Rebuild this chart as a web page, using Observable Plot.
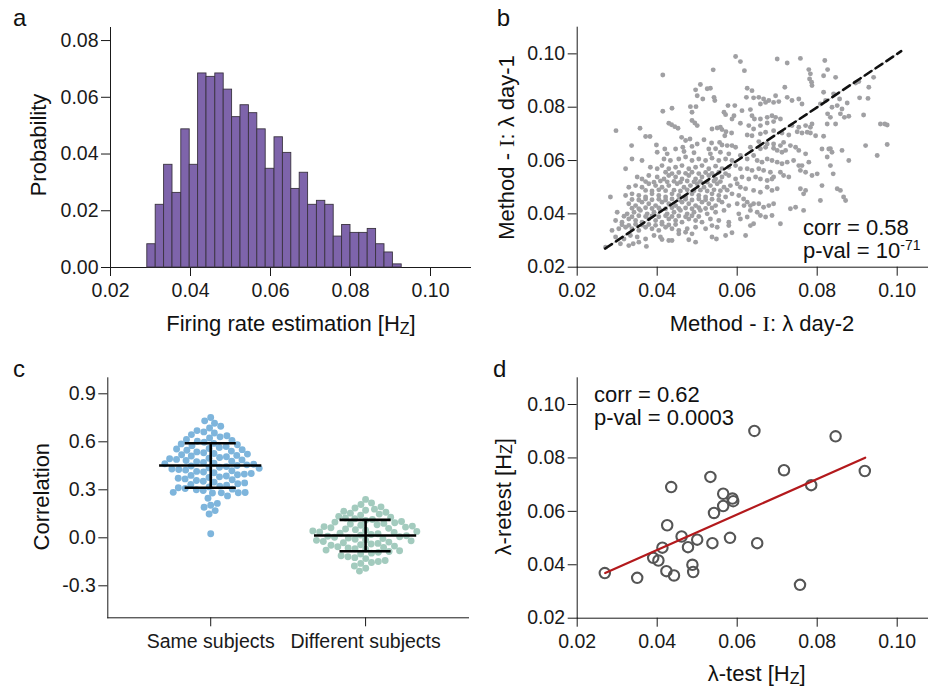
<!DOCTYPE html>
<html><head><meta charset="utf-8">
<script src="https://cdn.jsdelivr.net/npm/d3@7"></script>
<script src="https://cdn.jsdelivr.net/npm/@observablehq/plot@0.6"></script>
<style>
html,body{margin:0;padding:0;overflow:hidden;background:#fff;}
#fig{position:relative;width:928px;height:688px;overflow:hidden;}
.panel{position:absolute;}
.panel svg{overflow:visible;}
</style></head>
<body><div id="fig"></div>
<script>
// ---------------- DATA ----------------
// a: histogram of firing-rate estimates
const histEdges = [0.0292,0.0313,0.0334,0.0355,0.0377,0.0398,0.0419,0.0440,0.0462,0.0483,0.0504,0.0525,0.0546,0.0567,0.0588,0.0610,0.0631,0.0652,0.0673,0.0694,0.0716,0.0737,0.0758,0.0779,0.0800,0.0822,0.0843,0.0864,0.0885,0.0906,0.0928];
const histProb = [0.0082,0.0221,0.0362,0.0263,0.0487,0.0362,0.0684,0.0672,0.0684,0.0627,0.0530,0.0572,0.0544,0.0487,0.0348,0.0459,0.0404,0.0277,0.0334,0.0221,0.0235,0.0221,0.0109,0.0150,0.0122,0.0122,0.0136,0.0082,0.0053,0.0011];
const histXTicks = [0.02,0.04,0.06,0.08,0.10];
const histYTicks = [0,0.02,0.04,0.06,0.08];

// b: lambda day-2 (x) vs lambda day-1 (y)
const day2day1 = [
[0.0596,0.0990],[0.0608,0.0971],[0.0618,0.0937],[0.0540,0.0940],[0.0414,0.0921],[0.0508,0.0885],[0.0525,0.0869],[0.0533,0.0871],[0.0496,0.0865],[0.0500,0.0843],[0.0514,0.0831],[0.0542,0.0837],[0.0544,0.0825],[0.0437,0.0796],[0.0414,0.0785],[0.0483,0.0802],[0.0497,0.0802],[0.0487,0.0781],[0.0577,0.0806],[0.0594,0.0806],[0.0567,0.0781],[0.0571,0.0772],[0.0612,0.0787],[0.0592,0.0768],[0.0587,0.0756],[0.0608,0.0740],[0.0487,0.0750],[0.0494,0.0741],[0.0500,0.0731],[0.0429,0.0740],[0.0436,0.0734],[0.0444,0.0727],[0.0452,0.0721],[0.0537,0.0718],[0.0550,0.0722],[0.0558,0.0725],[0.0562,0.0716],[0.0572,0.0708],[0.0586,0.0703],[0.0569,0.0693],[0.0357,0.0721],[0.0297,0.0712],[0.0371,0.0690],[0.0382,0.0690],[0.0461,0.0687],[0.0471,0.0675],[0.0482,0.0681],[0.0517,0.0678],[0.0500,0.0662],[0.0536,0.0666],[0.0556,0.0668],[0.0562,0.0658],[0.0575,0.0656],[0.0587,0.0656],[0.0336,0.0656],[0.0398,0.0658],[0.0419,0.0643],[0.0446,0.0643],[0.0464,0.0650],[0.0487,0.0653],[0.0529,0.0643],[0.0596,0.0650],
[0.0700,0.0981],[0.0725,0.0966],[0.0758,0.0983],[0.0819,0.0975],[0.0779,0.0941],[0.0783,0.0925],[0.0781,0.0906],[0.0786,0.0894],[0.0787,0.0881],[0.0826,0.0941],[0.0816,0.0918],[0.0846,0.0912],[0.0941,0.0912],[0.0896,0.0891],[0.0904,0.0896],[0.0929,0.0875],[0.0927,0.0833],[0.0906,0.0835],[0.0719,0.0875],[0.0625,0.0871],[0.0637,0.0862],[0.0623,0.0837],[0.0641,0.0835],[0.0654,0.0837],[0.0666,0.0831],[0.0679,0.0825],[0.0696,0.0843],[0.0658,0.0812],[0.0671,0.0818],[0.0691,0.0818],[0.0704,0.0821],[0.0725,0.0837],[0.0737,0.0825],[0.0754,0.0831],[0.0762,0.0812],[0.0816,0.0856],[0.0808,0.0812],[0.0821,0.0825],[0.0841,0.0850],[0.0856,0.0831],[0.0875,0.0816],[0.0837,0.0800],[0.0850,0.0806],[0.0862,0.0793],[0.0858,0.0775],[0.0826,0.0775],[0.0833,0.0762],[0.0868,0.0762],[0.0879,0.0766],[0.0825,0.0737],[0.0846,0.0737],[0.0916,0.0771],[0.0633,0.0791],[0.0637,0.0768],[0.0643,0.0756],[0.0658,0.0756],[0.0675,0.0762],[0.0687,0.0768],[0.0696,0.0762],[0.0708,0.0756],[0.0691,0.0746],[0.0675,0.0741],[0.0658,0.0731],[0.0629,0.0731],[0.0641,0.0718],[0.0625,0.0696],[0.0637,0.0693],[0.0658,0.0700],[0.0671,0.0706],[0.0691,0.0712],[0.0712,0.0703],[0.0729,0.0696],[0.0737,0.0731],[0.0754,0.0725],[0.0771,0.0731],[0.0783,0.0725],[0.0787,0.0737],[0.0775,0.0706],[0.0783,0.0703],[0.0796,0.0693],[0.0816,0.0691],[0.0750,0.0708],[0.0762,0.0703],[0.0716,0.0668],[0.0654,0.0671],[0.0675,0.0662],[0.0691,0.0662],[0.0708,0.0656],[0.0733,0.0656],[0.0746,0.0650],[0.0812,0.0643],[0.0829,0.0643],[0.0921,0.0656],[0.0975,0.0660],[0.0958,0.0737],[0.0969,0.0737],[0.0975,0.0733],
[0.0633,0.0650],[0.0658,0.0644],[0.0671,0.0650],[0.0691,0.0646],[0.0700,0.0638],[0.0712,0.0631],[0.0721,0.0638],[0.0754,0.0638],[0.0771,0.0625],[0.0833,0.0644],[0.0837,0.0631],[0.0825,0.0613],[0.0862,0.0638],[0.0879,0.0600],[0.0950,0.0619],[0.0625,0.0606],[0.0641,0.0619],[0.0650,0.0600],[0.0662,0.0594],[0.0675,0.0606],[0.0687,0.0600],[0.0700,0.0594],[0.0712,0.0588],[0.0725,0.0594],[0.0741,0.0600],[0.0754,0.0581],[0.0762,0.0581],[0.0779,0.0594],[0.0787,0.0544],[0.0800,0.0550],[0.0833,0.0581],[0.0840,0.0550],[0.0608,0.0569],[0.0625,0.0569],[0.0637,0.0563],[0.0654,0.0569],[0.0666,0.0563],[0.0683,0.0556],[0.0691,0.0538],[0.0708,0.0556],[0.0716,0.0544],[0.0729,0.0538],[0.0758,0.0563],[0.0771,0.0556],[0.0629,0.0531],[0.0646,0.0538],[0.0658,0.0531],[0.0675,0.0525],[0.0687,0.0531],[0.0608,0.0500],[0.0621,0.0494],[0.0641,0.0488],[0.0658,0.0481],[0.0675,0.0500],[0.0687,0.0488],[0.0700,0.0494],[0.0758,0.0494],[0.0771,0.0488],[0.0766,0.0475],[0.0812,0.0506],[0.0850,0.0494],[0.0858,0.0488],[0.0866,0.0463],[0.0871,0.0450],[0.0808,0.0450],[0.0616,0.0456],[0.0625,0.0444],[0.0633,0.0431],[0.0641,0.0438],[0.0654,0.0438],[0.0666,0.0425],[0.0679,0.0431],[0.0691,0.0438],[0.0633,0.0413],[0.0650,0.0406],[0.0658,0.0394],[0.0733,0.0419],[0.0746,0.0425],[0.0766,0.0413],[0.0687,0.0394],[0.0671,0.0388],[0.0708,0.0363],[0.0633,0.0356],[0.0621,0.0319],[0.0641,0.0363],[0.0625,0.0388],
[0.0400,0.0631],[0.0425,0.0625],[0.0467,0.0634],[0.0492,0.0629],[0.0533,0.0625],[0.0546,0.0644],[0.0558,0.0631],[0.0579,0.0625],[0.0608,0.0619],
[0.0337,0.0606],[0.0362,0.0600],[0.0417,0.0606],[0.0433,0.0600],[0.0454,0.0606],[0.0471,0.0613],[0.0487,0.0600],[0.0504,0.0606],[0.0521,0.0600],[0.0537,0.0609],[0.0554,0.0600],[0.0571,0.0606],[0.0587,0.0600],
[0.0321,0.0569],[0.0383,0.0575],[0.0400,0.0569],[0.0412,0.0581],[0.0429,0.0569],[0.0446,0.0575],[0.0462,0.0581],[0.0479,0.0569],[0.0496,0.0575],[0.0512,0.0581],[0.0529,0.0569],[0.0546,0.0579],[0.0562,0.0569],[0.0579,0.0575],[0.0596,0.0581],
[0.0421,0.0556],[0.0437,0.0551],[0.0454,0.0555],[0.0471,0.0552],[0.0487,0.0556],[0.0504,0.0551],[0.0521,0.0555],[0.0537,0.0552],[0.0554,0.0556],[0.0571,0.0551],
[0.0350,0.0538],[0.0362,0.0531],[0.0379,0.0544],[0.0400,0.0538],[0.0417,0.0531],[0.0429,0.0544],[0.0446,0.0538],[0.0462,0.0531],[0.0479,0.0544],[0.0496,0.0531],[0.0512,0.0538],[0.0529,0.0544],[0.0546,0.0531],[0.0562,0.0538],[0.0579,0.0544],[0.0596,0.0531],[0.0612,0.0538],
[0.0371,0.0521],[0.0392,0.0519],[0.0408,0.0523],[0.0425,0.0520],[0.0442,0.0522],[0.0458,0.0519],[0.0475,0.0523],[0.0492,0.0520],[0.0508,0.0522],[0.0525,0.0519],[0.0542,0.0523],[0.0558,0.0521],
[0.0329,0.0500],[0.0346,0.0506],[0.0362,0.0500],[0.0379,0.0513],[0.0396,0.0506],[0.0412,0.0500],[0.0429,0.0506],[0.0450,0.0513],[0.0467,0.0500],[0.0483,0.0506],[0.0500,0.0513],[0.0517,0.0500],[0.0533,0.0506],[0.0550,0.0513],[0.0567,0.0500],[0.0583,0.0506],[0.0600,0.0513],
[0.0371,0.0488],[0.0387,0.0486],[0.0404,0.0490],[0.0421,0.0487],[0.0442,0.0489],[0.0458,0.0486],[0.0475,0.0490],[0.0492,0.0487],[0.0508,0.0489],[0.0525,0.0486],[0.0542,0.0490],[0.0558,0.0487],[0.0575,0.0489],
[0.0283,0.0463],[0.0321,0.0469],[0.0337,0.0475],[0.0354,0.0469],[0.0371,0.0463],[0.0387,0.0475],[0.0404,0.0469],[0.0421,0.0463],[0.0437,0.0475],[0.0454,0.0469],[0.0471,0.0463],[0.0487,0.0475],[0.0504,0.0469],[0.0521,0.0463],[0.0537,0.0475],[0.0554,0.0469],[0.0571,0.0463],[0.0587,0.0475],[0.0604,0.0469],
[0.0337,0.0454],[0.0354,0.0452],[0.0371,0.0456],[0.0387,0.0453],[0.0404,0.0455],[0.0421,0.0452],[0.0437,0.0456],[0.0454,0.0453],[0.0471,0.0455],[0.0487,0.0452],[0.0504,0.0456],[0.0521,0.0453],[0.0537,0.0455],[0.0554,0.0452],
[0.0329,0.0438],[0.0346,0.0431],[0.0362,0.0444],[0.0379,0.0438],[0.0396,0.0431],[0.0412,0.0444],[0.0429,0.0438],[0.0446,0.0431],[0.0462,0.0444],[0.0479,0.0438],[0.0496,0.0431],[0.0512,0.0444],[0.0529,0.0438],[0.0546,0.0431],[0.0562,0.0444],[0.0579,0.0431],[0.0600,0.0438],[0.0617,0.0431],
[0.0337,0.0421],[0.0354,0.0419],[0.0371,0.0423],[0.0387,0.0420],[0.0404,0.0422],[0.0421,0.0419],[0.0437,0.0423],[0.0454,0.0420],[0.0471,0.0422],[0.0487,0.0419],[0.0504,0.0423],[0.0521,0.0420],[0.0537,0.0422],
[0.0300,0.0406],[0.0325,0.0400],[0.0342,0.0406],[0.0358,0.0413],[0.0375,0.0400],[0.0392,0.0406],[0.0408,0.0413],[0.0425,0.0400],[0.0442,0.0406],[0.0458,0.0413],[0.0475,0.0400],[0.0492,0.0406],[0.0508,0.0413],[0.0525,0.0400],[0.0546,0.0406],[0.0567,0.0413],[0.0604,0.0400],
[0.0317,0.0391],[0.0337,0.0389],[0.0354,0.0393],[0.0371,0.0390],[0.0387,0.0392],[0.0404,0.0389],[0.0421,0.0393],[0.0437,0.0390],[0.0454,0.0392],[0.0471,0.0389],[0.0487,0.0393],[0.0504,0.0390],
[0.0296,0.0375],[0.0312,0.0369],[0.0329,0.0381],[0.0346,0.0375],[0.0362,0.0369],[0.0379,0.0381],[0.0396,0.0375],[0.0412,0.0369],[0.0429,0.0381],[0.0446,0.0375],[0.0462,0.0369],[0.0479,0.0381],[0.0496,0.0375],[0.0512,0.0369],[0.0533,0.0381],[0.0554,0.0375],[0.0579,0.0369],[0.0608,0.0381],
[0.0312,0.0359],[0.0329,0.0357],[0.0346,0.0361],[0.0362,0.0358],[0.0379,0.0360],[0.0396,0.0357],[0.0412,0.0361],[0.0429,0.0358],[0.0446,0.0360],
[0.0287,0.0338],[0.0304,0.0344],[0.0321,0.0350],[0.0337,0.0344],[0.0354,0.0338],[0.0371,0.0350],[0.0387,0.0344],[0.0404,0.0338],[0.0421,0.0350],[0.0437,0.0344],[0.0454,0.0338],[0.0475,0.0344],[0.0496,0.0350],[0.0521,0.0344],[0.0537,0.0356],[0.0550,0.0350],[0.0579,0.0356],
[0.0296,0.0313],[0.0317,0.0306],[0.0333,0.0319],[0.0350,0.0313],[0.0371,0.0306],[0.0392,0.0319],[0.0408,0.0313],[0.0429,0.0300],[0.0454,0.0325],[0.0471,0.0331],[0.0487,0.0325],[0.0537,0.0313],[0.0571,0.0319],[0.0587,0.0329],
[0.0271,0.0275],[0.0308,0.0288],[0.0329,0.0281],[0.0340,0.0288],[0.0354,0.0294],[0.0373,0.0278],[0.0412,0.0304],[0.0437,0.0300],[0.0479,0.0303],[0.0496,0.0294],[0.0548,0.0306]
];
const diagonalEnds = [0.027, 0.101];
const rateTicks = [0.02,0.04,0.06,0.08,0.10];
const corrB = "corr = 0.58";
const pvalB = ["p-val = 10", "-71"];

// c: correlations, same vs different subjects
const groupNames = ["Same subjects","Different subjects"];
const sameCorr = [
0.752,0.731,0.716,0.697,0.686,
0.655,0.662,0.670,
0.624,0.631,0.638,0.645,
0.590,0.597,0.603,0.609,0.615,
0.558,0.564,0.570,0.576,0.582,0.587,
0.527,0.532,0.537,0.542,0.547,0.551,0.555,
0.497,0.502,0.507,0.511,0.515,0.519,0.523,
0.467,0.471,0.475,0.479,0.483,0.487,0.490,0.494,
0.437,0.441,0.445,0.449,0.452,0.456,0.460,0.463,
0.407,0.411,0.415,0.419,0.423,0.427,0.430,0.434,
0.377,0.381,0.386,0.390,0.394,0.398,0.402,
0.348,0.353,0.358,0.363,0.368,0.372,
0.318,0.323,0.328,0.333,0.338,0.343,
0.296,0.300,0.304,0.308,0.313,
0.280,0.281,0.282,0.283,0.284,
0.247,0.262,0.203,0.215,0.191,0.170,0.149,0.025];
const diffCorr = [
0.240,
0.208,0.218,
0.172,0.179,0.186,0.193,
0.142,0.148,0.154,0.160,0.166,
0.109,0.114,0.119,0.124,0.129,0.134,
0.078,0.082,0.086,0.090,0.094,0.098,0.102,
0.047,0.051,0.055,0.059,0.063,0.067,0.070,0.073,
0.017,0.021,0.025,0.029,0.033,0.037,0.040,0.043,
-0.013,-0.009,-0.005,-0.001,0.003,0.007,0.010,0.013,
-0.043,-0.039,-0.035,-0.031,-0.027,-0.023,-0.019,-0.016,
-0.072,-0.068,-0.064,-0.060,-0.056,-0.052,-0.047,
-0.101,-0.096,-0.091,-0.086,-0.081,-0.077,
-0.130,-0.124,-0.118,-0.112,
-0.160,-0.154,-0.148,-0.142,
-0.190,-0.176,
-0.208];
const groupMeans = [0.452, 0.014];
const groupSDs = [0.139, 0.098];
const corrTicks = [-0.3,0,0.3,0.6,0.9];

// d: test vs retest
const testRate =   [0.0269,0.0350,0.0390,0.0403,0.0413,0.0425,0.0423,0.0442,0.0435,0.0461,0.0477,0.0488,0.0490,0.0500,0.0533,0.0538,0.0542,0.0565,0.0565,0.0582,0.0588,0.0590,0.0643,0.0650,0.0717,0.0757,0.0785,0.0846,0.0919];
const retestRate = [0.0369,0.0351,0.0426,0.0416,0.0464,0.0548,0.0376,0.0360,0.0691,0.0506,0.0466,0.0400,0.0373,0.0494,0.0729,0.0481,0.0594,0.0620,0.0666,0.0501,0.0648,0.0638,0.0901,0.0481,0.0754,0.0325,0.0698,0.0881,0.0751];
const fitX = [0.027, 0.092];
const fitY = [0.0369, 0.0801];
const corrD = "corr = 0.62";
const pvalD = "p-val = 0.0003";

// ---------------- DRAWING ----------------
const FONT = '"Liberation Sans", Arial, Helvetica, sans-serif';
const baseStyle = {fontFamily: FONT, fontSize: "19.5px", color: "#1a1a1a", background: "transparent", overflow: "visible"};
const f2 = d3.format(".2f");
const fig = document.getElementById("fig");

function place(svg, left, top, width) {
  const div = document.createElement("div");
  div.className = "panel";
  div.style.left = left + "px";
  div.style.top = top + "px";
  div.style.width = width + "px";
  div.appendChild(svg);
  fig.appendChild(div);
}

function addText(svg, x, y, parts, o = {}) {
  const t = d3.select(svg).append("text")
    .attr("font-family", FONT)
    .attr("font-size", o.size || 22)
    .attr("fill", "#111")
    .attr("text-anchor", o.anchor || "start");
  if (o.rotate) t.attr("transform", `translate(${x},${y}) rotate(-90)`).attr("dominant-baseline", "central");
  else t.attr("x", x).attr("y", y);
  for (const p of parts) {
    const s = t.append("tspan").text(p.t);
    if (p.size) s.attr("font-size", p.size);
    if (p.dy) s.attr("dy", p.dy);
    if (p.family) s.attr("font-family", p.family);
  }
}
const hzParts = (prefix) => [{t: prefix + "[H"}, {t: "Z", size: 16, dy: 3}, {t: "]", size: 22, dy: -3}];

// ---- Panel a ----
const plotA = Plot.plot({
  width: 480, height: 345,
  marginLeft: 110, marginRight: 10, marginTop: 27, marginBottom: 78,
  style: baseStyle,
  x: {domain: [0.02, 0.11], ticks: histXTicks, tickFormat: f2, tickSize: 9, tickPadding: 7, label: null, line: true},
  y: {domain: [0, 0.0846], ticks: histYTicks, tickFormat: f2, tickSize: 9, tickPadding: 3, label: null, line: true},
  marks: [
    Plot.rectY(histProb, {x1: (d, i) => histEdges[i], x2: (d, i) => histEdges[i + 1], y: (d) => d,
      fill: "#7e64ab", stroke: "#3a3340", strokeWidth: 0.9})
  ]
});
place(plotA, 0, 0, 480);
addText(plotA, 13, 26, [{t: "a"}], {size: 24});
addText(plotA, 38, 145, [{t: "Probability"}], {rotate: true, anchor: "middle"});
addText(plotA, 291, 331, hzParts("Firing rate estimation "), {anchor: "middle"});

// ---- Panel b ----
const plotB = Plot.plot({
  width: 466, height: 345,
  marginLeft: 96.7, marginRight: 9.3, marginTop: 26.7, marginBottom: 78.3,
  style: baseStyle,
  x: {domain: [0.02, 0.11], ticks: rateTicks, tickFormat: f2, tickSize: 9, tickPadding: 7, label: null, line: true},
  y: {domain: [0.02, 0.11], ticks: rateTicks, tickFormat: f2, tickSize: 9, tickPadding: 3, label: null, line: true},
  marks: [
    Plot.dot(day2day1, {x: (d) => d[0], y: (d) => d[1], r: 2.45, fill: "#a0a0a3"}),
    Plot.line(diagonalEnds, {x: (d) => d, y: (d) => d, stroke: "#c4c4c4", strokeWidth: 1}),
    Plot.line(diagonalEnds, {x: (d) => d, y: (d) => d, stroke: "#111", strokeWidth: 2.6, strokeDasharray: "8,5"})
  ]
});
place(plotB, 480, 0, 466);
addText(plotB, 16.7, 26, [{t: "b"}], {size: 24});
addText(plotB, 26, 147.5, [{t: "Method - "}, {t: "I", family: '"Liberation Serif", "DejaVu Serif", serif'}, {t: ": λ day-1"}], {rotate: true, anchor: "middle"});
addText(plotB, 282, 331, [{t: "Method - "}, {t: "I", family: '"Liberation Serif", "DejaVu Serif", serif'}, {t: ": λ day-2"}], {anchor: "middle"});
addText(plotB, 323, 234.5, [{t: corrB}], {size: 22});
addText(plotB, 323, 257.5, [{t: pvalB[0]}, {t: pvalB[1], size: 14, dy: -8}], {size: 22});

// ---- Panel c ----
const xDomC = [-0.6645, 1.6645];
function swarm(values, gi, fill) {
  const opts = Plot.dodgeX({anchor: "middle", padding: 0}, {y: (d) => d, r: 3.45, fill});
  const dodge = opts.initializer;
  opts.initializer = function (data, facets, channels, scales, dimensions, context) {
    const out = dodge.call(this, data, facets, channels, scales, dimensions, context);
    const mid = (dimensions.marginLeft + dimensions.width - dimensions.marginRight) / 2;
    const shift = scales.x(gi) - mid;
    const ch = out.channels;
    const X = Array.from(ch.x.value, (v) => v + shift);
    return {...out, channels: {...ch, x: {...ch.x, value: X}}};
  };
  return Plot.dot(values, opts);
}
const statsC = groupNames.map((g, i) => ({i, mean: groupMeans[i], sd: groupSDs[i]}));
const barStyle = {stroke: "#000", strokeWidth: 2.6};
const plotC = Plot.plot({
  width: 480, height: 348,
  marginLeft: 107.3, marginRight: 12, marginTop: 37.3, marginBottom: 70.7,
  style: baseStyle,
  x: {domain: xDomC, ticks: [0, 1], tickFormat: (i) => groupNames[i], tickSize: 9, tickPadding: 7, label: null, line: true},
  y: {domain: [-0.5, 1.0], ticks: corrTicks, tickFormat: (d) => d.toFixed(1), tickSize: 9, tickPadding: 3, label: null, line: true},
  marks: [
    swarm(sameCorr, 0, "#7eb5dc"),
    swarm(diffCorr, 1, "#a3cbbe"),
    Plot.ruleX(statsC, {x: "i", y1: (d) => d.mean - d.sd, y2: (d) => d.mean + d.sd, ...barStyle}),
    Plot.ruleY(statsC, {x1: (d) => d.i - 0.33, x2: (d) => d.i + 0.33, y: "mean", ...barStyle}),
    Plot.ruleY(statsC, {x1: (d) => d.i - 0.165, x2: (d) => d.i + 0.165, y: (d) => d.mean + d.sd, ...barStyle}),
    Plot.ruleY(statsC, {x1: (d) => d.i - 0.165, x2: (d) => d.i + 0.165, y: (d) => d.mean - d.sd, ...barStyle})
  ]
});
place(plotC, 0, 340, 480);
addText(plotC, 13, 36.7, [{t: "c"}], {size: 24});
addText(plotC, 40.7, 156.7, [{t: "Correlation"}], {rotate: true, anchor: "middle"});

// ---- Panel d ----
const pointsD = testRate.map((x, i) => ({x, y: retestRate[i]}));
const fitD = fitX.map((x, i) => ({x, y: fitY[i]}));
const plotD = Plot.plot({
  width: 466, height: 348,
  marginLeft: 96.7, marginRight: 9.3, marginTop: 37.3, marginBottom: 70.3,
  style: baseStyle,
  x: {domain: [0.02, 0.11], ticks: rateTicks, tickFormat: f2, tickSize: 9, tickPadding: 7, label: null, line: true},
  y: {domain: [0.02, 0.11], ticks: rateTicks, tickFormat: f2, tickSize: 9, tickPadding: 3, label: null, line: true},
  marks: [
    Plot.dot(pointsD, {x: "x", y: "y", r: 5.2, stroke: "#555", strokeWidth: 2.1, fill: "none"}),
    Plot.line(fitD, {x: "x", y: "y", stroke: "#b3191c", strokeWidth: 2.2})
  ]
});
place(plotD, 480, 340, 466);
addText(plotD, 13, 36.7, [{t: "d"}], {size: 24});
addText(plotD, 22.5, 156.7, hzParts("λ-retest "), {rotate: true, anchor: "middle"});
addText(plotD, 276.7, 341, hzParts("λ-test "), {anchor: "middle"});
addText(plotD, 114, 61.5, [{t: corrD}], {size: 22});
addText(plotD, 114, 85, [{t: pvalD}], {size: 22});
</script>
</body></html>
